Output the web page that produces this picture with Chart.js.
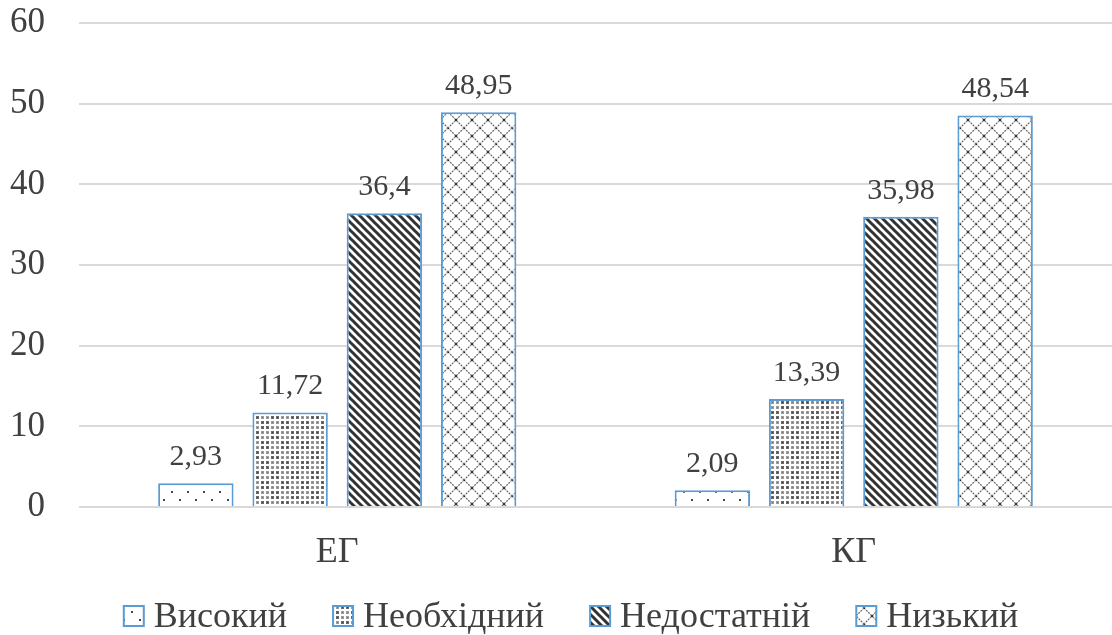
<!DOCTYPE html>
<html>
<head>
<meta charset="utf-8">
<script src="https://cdn.jsdelivr.net/npm/chart.js@4.4.1/dist/chart.umd.min.js"></script>
<style>
  html, body { margin: 0; padding: 0; background: #fff; overflow: hidden; }
  #wrap { width: 1112px; height: 635px; }
</style>
</head>
<body>
<div id="wrap"><canvas id="myChart"></canvas></div>
<script>
const categories = ["ЕГ", "КГ"];
const seriesNames = ["Високий", "Необхідний", "Недостатній", "Низький"];
const vysokyi = [2.93, 2.09];
const neobkhidnyi = [11.72, 13.39];
const nedostatnii = [36.4, 35.98];
const nyzkyi = [48.95, 48.54];
const yTicks = [0, 10, 20, 30, 40, 50, 60];

const textColor = '#404040';
const font = 'Liberation Serif';
const blue = '#5B9BD5';

function makePattern(size, draw) {
    const c = document.createElement('canvas');
    c.width = size; c.height = size;
    const g = c.getContext('2d');
    g.fillStyle = '#fff';
    g.fillRect(0, 0, size, size);
    draw(g, size);
    return c.getContext('2d').createPattern(c, 'repeat');
}

// sparse dots
const dotPattern = makePattern(16, (g) => {
    g.fillStyle = '#444';
    g.fillRect(3, 3, 2, 2);
    g.fillRect(11, 11, 2, 2);
});

// dense spheres: grey mesh of small squares
const densePattern = makePattern(20, (g) => {
    for (let cy = 0; cy < 4; cy++) {
        for (let cx = 0; cx < 4; cx++) {
            const dark = ((cx >> 1) + (cy >> 1)) % 2 === 0;
            g.fillStyle = dark ? '#6a6a6a' : '#9a9a9a';
            g.fillRect(cx * 5 + 1, cy * 5 + 1, 3, 3);
            g.fillStyle = dark ? '#444' : '#777';
            g.fillRect(cx * 5 + 2, cy * 5 + 2, 1, 1);
        }
    }
});

// dark wide downward diagonal
const diagPattern = makePattern(8, (g, s) => {
    g.strokeStyle = '#333';
    g.lineWidth = 3;
    g.beginPath();
    g.moveTo(-2, -2); g.lineTo(s + 2, s + 2);
    g.moveTo(-2, s - 2); g.lineTo(2, s + 2);
    g.moveTo(s - 2, -2); g.lineTo(s + 2, 2);
    g.stroke();
});

// outlined diamonds
const diamondPattern = makePattern(16, (g, s) => {
    g.strokeStyle = '#666';
    g.lineWidth = 1.2;
    g.setLineDash([2, 1]);
    g.beginPath();
    g.moveTo(0, 0); g.lineTo(s, s);
    g.moveTo(s, 0); g.lineTo(0, s);
    g.stroke();
    g.setLineDash([]);
    g.fillStyle = '#333';
    g.fillRect(7, 7, 2, 2);
    g.fillRect(0, 0, 1, 1);
});

const patterns = [dotPattern, densePattern, diagPattern, diamondPattern];

const valueLabels = {
    id: 'valueLabels',
    afterDatasetsDraw(chart) {
        const ctx = chart.ctx;
        ctx.save();
        ctx.fillStyle = textColor;
        ctx.font = '30px "' + font + '"';
        ctx.textAlign = 'center';
        ctx.textBaseline = 'alphabetic';
        chart.data.datasets.forEach((ds, i) => {
            chart.getDatasetMeta(i).data.forEach((bar, j) => {
                const txt = String(ds.data[j]).replace('.', ',');
                ctx.fillText(txt, bar.x, bar.y - 18);
            });
        });
        ctx.restore();
    }
};

// legend drawn by hand to get Excel-like tight spacing
const bottomLegend = {
    id: 'bottomLegend',
    afterDraw(chart) {
        const ctx = chart.ctx;
        const box = 20, gapText = 10, gapItem = 46;
        ctx.save();
        ctx.font = '36px "' + font + '"';
        ctx.textBaseline = 'alphabetic';
        const widths = chart.data.datasets.map(ds => ctx.measureText(ds.label).width);
        const total = widths.reduce((a, w) => a + box + gapText + w, 0) + gapItem * (widths.length - 1);
        let x = (chart.width - total) / 2 + 15;
        const boxTop = chart.height - 29;
        const baseline = chart.height - 8;
        chart.data.datasets.forEach((ds, i) => {
            ctx.fillStyle = ds.backgroundColor;
            ctx.fillRect(x, boxTop, box, box);
            ctx.strokeStyle = blue;
            ctx.lineWidth = 2;
            ctx.strokeRect(x, boxTop, box, box);
            ctx.fillStyle = textColor;
            ctx.fillText(ds.label, x + box + gapText, baseline);
            x += box + gapText + widths[i] + gapItem;
        });
        ctx.restore();
    }
};

const ctx = document.getElementById('myChart');

const chart = new Chart(ctx, {
    type: 'bar',
    data: {
        labels: categories,
        datasets: [vysokyi, neobkhidnyi, nedostatnii, nyzkyi].map((d, i) => ({
            label: seriesNames[i],
            data: d,
            backgroundColor: patterns[i],
            borderColor: blue,
            borderWidth: 2,
            categoryPercentage: 0.73,
            barPercentage: 0.8
        }))
    },
    options: {
        responsive: true,
        maintainAspectRatio: false,
        animation: false,
        layout: { padding: { top: 23, left: 0, right: 0, bottom: 58 } },
        plugins: {
            tooltip: { enabled: false },
            legend: { display: false }
        },
        scales: {
            x: {
                afterFit: (axis) => { axis.height = 70; axis.paddingLeft = 0; axis.paddingRight = 0; },
                grid: { display: false, drawTicks: false },
                border: { display: false },
                ticks: {
                    color: textColor,
                    font: { family: font, size: 36 },
                    padding: 24,
                    maxRotation: 0
                }
            },
            y: {
                min: 0,
                max: 60,
                afterBuildTicks: (axis) => { axis.ticks = yTicks.map(v => ({ value: v })); },
                afterFit: (axis) => { axis.width = 79; axis.paddingTop = 0; axis.paddingBottom = 0; },
                grid: { color: '#d9d9d9', lineWidth: 2, drawTicks: false },
                border: { display: false },
                ticks: {
                    color: textColor,
                    font: { family: font, size: 35 },
                    padding: 34
                }
            }
        }
    },
    plugins: [valueLabels, bottomLegend]
});
</script>
</body>
</html>
